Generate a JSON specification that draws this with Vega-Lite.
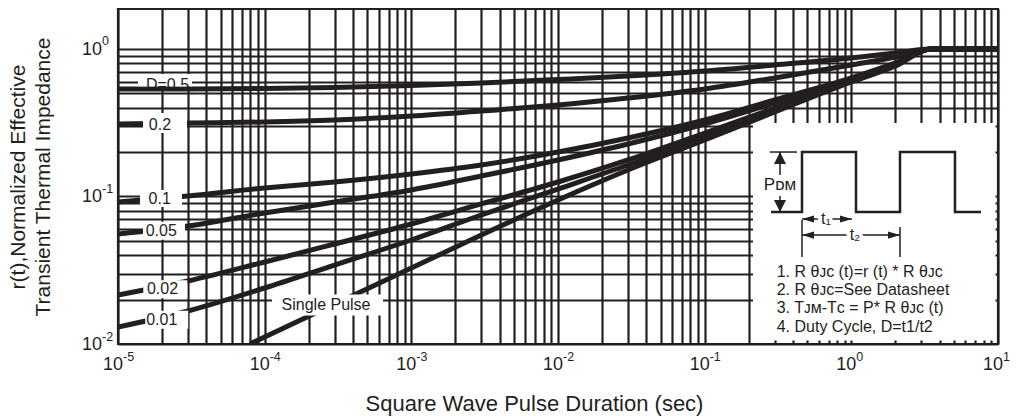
{
  "$schema": "https://vega.github.io/schema/vega-lite/v6.json",
  "width": 880,
  "height": 335,
  "autosize": {"type": "none"},
  "padding": {"left": 118, "top": 9, "right": 20, "bottom": 74},
  "background": "white",
  "config": {
    "font": "Liberation Sans",
    "view": {"stroke": "#231f20", "strokeWidth": 2.2},
    "axis": {
      "labels": false,
      "titleFont": "Liberation Sans",
      "titleFontWeight": "normal",
      "titleColor": "#231f20",
      "gridColor": "#231f20",
      "gridOpacity": 1,
      "gridWidth": 2.2,
      "ticks": false,
      "domain": false
    }
  },
  "encoding": {
    "x": {
      "field": "t",
      "type": "quantitative",
      "scale": {"type": "log", "domain": [0.00001, 10], "nice": false},
      "axis": {
        "title": "Square Wave Pulse Duration (sec)",
        "titleFontSize": 22,
        "titleX": 416,
        "titleY": 59,
        "titleBaseline": "middle",
        "grid": true,
        "values": [0.00001,0.00002,0.00003,0.00004,0.00005,0.00006,0.00007,0.00008,0.00009,0.0001,0.0002,0.0003,0.0004,0.0005,0.0006,0.0007,0.0008,0.0009,0.001,0.002,0.003,0.004,0.005,0.006,0.007,0.008,0.009,0.01,0.02,0.03,0.04,0.05,0.06,0.07,0.08,0.09,0.1,0.2,0.3,0.4,0.5,0.6,0.7,0.8,0.9,1,2,3,4,5,6,7,8,9,10]
      }
    },
    "y": {
      "field": "r",
      "type": "quantitative",
      "scale": {"type": "log", "domain": [0.01, 1.867], "nice": false},
      "axis": {
        "title": ["r(t),Normalized Effective", "Transient Thermal Impedance"],
        "titleFontSize": 21,
        "titleLineHeight": 25,
        "titleX": -100,
        "titleY": 167.5,
        "titleBaseline": "middle",
        "grid": true,
        "values": [0.01,0.02,0.03,0.04,0.05,0.06,0.07,0.08,0.09,0.1,0.2,0.3,0.4,0.5,0.6,0.7,0.8,0.9,1]
      }
    }
  },
  "resolve": {"scale": {"shape": "independent"}},
  "layer": [
    {
      "data": {"values": [{"t": 0.2136, "t2": 9.62, "r": 0.01056, "r2": 0.315}]},
      "mark": {"type": "rect", "fill": "white", "stroke": null},
      "encoding": {"x2": {"field": "t2"}, "y2": {"field": "r2"}}
    },
    {
      "data": {"values": [
        {"D": "0.5", "t": 0.00001, "r": 0.5356}, {"D": "0.5", "t": 0.00003, "r": 0.536}, {"D": "0.5", "t": 0.0001, "r": 0.540}, {"D": "0.5", "t": 0.0003, "r": 0.548}, {"D": "0.5", "t": 0.001, "r": 0.566}, {"D": "0.5", "t": 0.003, "r": 0.588}, {"D": "0.5", "t": 0.01, "r": 0.621}, {"D": "0.5", "t": 0.03, "r": 0.656}, {"D": "0.5", "t": 0.1, "r": 0.709}, {"D": "0.5", "t": 0.3, "r": 0.779}, {"D": "0.5", "t": 1, "r": 0.869}, {"D": "0.5", "t": 2, "r": 0.9395}, {"D": "0.5", "t": 3.5, "r": 1.0}, {"D": "0.5", "t": 10, "r": 1.0},
        {"D": "0.2", "t": 0.00001, "r": 0.310}, {"D": "0.2", "t": 0.00003, "r": 0.315}, {"D": "0.2", "t": 0.0001, "r": 0.320}, {"D": "0.2", "t": 0.0003, "r": 0.330}, {"D": "0.2", "t": 0.001, "r": 0.351}, {"D": "0.2", "t": 0.003, "r": 0.380}, {"D": "0.2", "t": 0.01, "r": 0.417}, {"D": "0.2", "t": 0.03, "r": 0.465}, {"D": "0.2", "t": 0.1, "r": 0.5356}, {"D": "0.2", "t": 0.3, "r": 0.636}, {"D": "0.2", "t": 1, "r": 0.779}, {"D": "0.2", "t": 2, "r": 0.883}, {"D": "0.2", "t": 3.5, "r": 1.0}, {"D": "0.2", "t": 10, "r": 1.0},
        {"D": "0.1", "t": 0.00001, "r": 0.0918}, {"D": "0.1", "t": 0.00003, "r": 0.1008}, {"D": "0.1", "t": 0.0001, "r": 0.1142}, {"D": "0.1", "t": 0.0003, "r": 0.1254}, {"D": "0.1", "t": 0.001, "r": 0.1421}, {"D": "0.1", "t": 0.003, "r": 0.1635}, {"D": "0.1", "t": 0.01, "r": 0.2002}, {"D": "0.1", "t": 0.03, "r": 0.2492}, {"D": "0.1", "t": 0.1, "r": 0.330}, {"D": "0.1", "t": 0.3, "r": 0.451}, {"D": "0.1", "t": 1, "r": 0.636}, {"D": "0.1", "t": 2, "r": 0.804}, {"D": "0.1", "t": 3.5, "r": 1.0}, {"D": "0.1", "t": 10, "r": 1.0},
        {"D": "0.05", "t": 0.00001, "r": 0.0557}, {"D": "0.05", "t": 0.00003, "r": 0.0631}, {"D": "0.05", "t": 0.0001, "r": 0.0773}, {"D": "0.05", "t": 0.0003, "r": 0.0918}, {"D": "0.05", "t": 0.001, "r": 0.1107}, {"D": "0.05", "t": 0.003, "r": 0.1377}, {"D": "0.05", "t": 0.01, "r": 0.1768}, {"D": "0.05", "t": 0.03, "r": 0.2270}, {"D": "0.05", "t": 0.1, "r": 0.310}, {"D": "0.05", "t": 0.3, "r": 0.4304}, {"D": "0.05", "t": 1, "r": 0.626}, {"D": "0.05", "t": 2, "r": 0.791}, {"D": "0.05", "t": 3.5, "r": 1.0}, {"D": "0.05", "t": 10, "r": 1.0},
        {"D": "0.02", "t": 0.00001, "r": 0.0215}, {"D": "0.02", "t": 0.00003, "r": 0.02674}, {"D": "0.02", "t": 0.0001, "r": 0.03597}, {"D": "0.02", "t": 0.0003, "r": 0.04764}, {"D": "0.02", "t": 0.001, "r": 0.0651}, {"D": "0.02", "t": 0.003, "r": 0.0890}, {"D": "0.02", "t": 0.01, "r": 0.1254}, {"D": "0.02", "t": 0.03, "r": 0.1768}, {"D": "0.02", "t": 0.1, "r": 0.2694}, {"D": "0.02", "t": 0.3, "r": 0.398}, {"D": "0.02", "t": 1, "r": 0.6166}, {"D": "0.02", "t": 2, "r": 0.791}, {"D": "0.02", "t": 3.5, "r": 1.0}, {"D": "0.02", "t": 10, "r": 1.0},
        {"D": "0.01", "t": 0.00001, "r": 0.01304}, {"D": "0.01", "t": 0.00003, "r": 0.01674}, {"D": "0.01", "t": 0.0001, "r": 0.02397}, {"D": "0.01", "t": 0.0003, "r": 0.03432}, {"D": "0.01", "t": 0.001, "r": 0.0507}, {"D": "0.01", "t": 0.003, "r": 0.0749}, {"D": "0.01", "t": 0.01, "r": 0.1124}, {"D": "0.01", "t": 0.03, "r": 0.1635}, {"D": "0.01", "t": 0.1, "r": 0.2532}, {"D": "0.01", "t": 0.3, "r": 0.392}, {"D": "0.01", "t": 1, "r": 0.6067}, {"D": "0.01", "t": 2, "r": 0.791}, {"D": "0.01", "t": 3.5, "r": 1.0}, {"D": "0.01", "t": 10, "r": 1.0},
        {"D": "single", "t": 0.0000794, "r": 0.01}, {"D": "single", "t": 0.0001, "r": 0.01115}, {"D": "single", "t": 0.0003, "r": 0.01867}, {"D": "single", "t": 0.001, "r": 0.03275}, {"D": "single", "t": 0.003, "r": 0.0548}, {"D": "single", "t": 0.01, "r": 0.0947}, {"D": "single", "t": 0.03, "r": 0.1512}, {"D": "single", "t": 0.1, "r": 0.2416}, {"D": "single", "t": 0.3, "r": 0.374}, {"D": "single", "t": 1, "r": 0.5974}, {"D": "single", "t": 2, "r": 0.767}, {"D": "single", "t": 3.5, "r": 1.0}, {"D": "single", "t": 10, "r": 1.0}
      ]},
      "mark": {"type": "line", "color": "#231f20", "strokeWidth": 5, "interpolate": "monotone", "clip": true},
      "encoding": {"detail": {"field": "D"}}
    },
    {
      "data": {"name": "labels", "values": [
        {"label": "D=0.5", "t": 0.00002176, "r": 0.5675},
        {"label": "0.2", "t": 0.00001933, "r": 0.3067},
        {"label": "0.1", "t": 0.00001924, "r": 0.09692},
        {"label": "0.05", "t": 0.00001973, "r": 0.05854},
        {"label": "0.02", "t": 0.00002011, "r": 0.02352},
        {"label": "0.01", "t": 0.00001986, "r": 0.01459},
        {"label": "Single Pulse", "t": 0.000262, "r": 0.01838}
      ]},
      "mark": {"type": "point", "filled": true, "fill": "white", "opacity": 1, "strokeWidth": 0, "size": 400},
      "encoding": {
        "shape": {
          "field": "label",
          "type": "nominal",
          "legend": null,
          "scale": {
            "domain": ["D=0.5", "0.2", "0.1", "0.05", "0.02", "0.01", "Single Pulse"],
            "range": ["M-2.95,-1.135H2.45V0.1H-2.95Z", "M-1.7,-1.17H2.7V0.83H-1.7Z", "M-1.97,-0.85H2.23V0.85H-1.97Z", "M-1.83,-0.9H2.37V0.9H-1.83Z", "M-1.92,-0.9H2.48V0.9H-1.92Z", "M-1.65,-0.9H2.65V0.9H-1.65Z", "M-5.4,-1.05H5.7V1.05H-5.4Z"]
          }
        }
      }
    },
    {
      "data": {"name": "labels"},
      "mark": {"type": "text", "fontSize": 16, "color": "#231f20", "align": "center", "baseline": "middle"},
      "encoding": {"text": {"field": "label"}}
    },
    {
      "data": {"name": "xdec", "values": [
        {"t": 0.00001, "r": 0.01, "e": "-5"},
        {"t": 0.0001, "r": 0.01, "e": "-4"},
        {"t": 0.001, "r": 0.01, "e": "-3"},
        {"t": 0.01, "r": 0.01, "e": "-2"},
        {"t": 0.1, "r": 0.01, "e": "-1"},
        {"t": 1, "r": 0.01, "e": "0"},
        {"t": 10, "r": 0.01, "e": "1"}
      ]},
      "mark": {"type": "text", "fontSize": 18, "color": "#231f20", "align": "right", "baseline": "middle", "dx": 5, "dy": 20.5, "text": "10"}
    },
    {
      "data": {"name": "xdec"},
      "mark": {"type": "text", "fontSize": 12.5, "color": "#231f20", "align": "left", "baseline": "middle", "dx": 5, "dy": 13}
      ,"encoding": {"text": {"field": "e"}}
    },
    {
      "data": {"name": "ydec", "values": [
        {"t": 0.00001, "r": 0.01, "e": "-2"},
        {"t": 0.00001, "r": 0.1, "e": "-1"},
        {"t": 0.00001, "r": 1, "e": "0"}
      ]},
      "mark": {"type": "text", "fontSize": 18, "color": "#231f20", "align": "left", "baseline": "middle", "dx": -36, "dy": 1, "text": "10"}
    },
    {
      "data": {"name": "ydec"},
      "mark": {"type": "text", "fontSize": 12.5, "color": "#231f20", "align": "left", "baseline": "middle", "dx": -16, "dy": -7.5},
      "encoding": {"text": {"field": "e"}}
    },
    {
      "data": {"values": [
        {"i": 1, "t": 0.2834, "r": 0.0785}, {"i": 2, "t": 0.4609, "r": 0.0785}, {"i": 3, "t": 0.4609, "r": 0.2002}, {"i": 4, "t": 1.076, "r": 0.2002}, {"i": 5, "t": 1.076, "r": 0.0785}, {"i": 6, "t": 2.147, "r": 0.0785}, {"i": 7, "t": 2.147, "r": 0.2002}, {"i": 8, "t": 5.09, "r": 0.2002}, {"i": 9, "t": 5.09, "r": 0.0785}, {"i": 10, "t": 7.66, "r": 0.0785}
      ]},
      "mark": {"type": "line", "color": "#231f20", "strokeWidth": 2.5, "strokeJoin": "miter"},
      "encoding": {"order": {"field": "i"}}
    },
    {
      "data": {"values": [
        {"t": 0.2783, "t2": 0.4262, "r": 0.2002, "r2": 0.2002},
        {"t": 0.3264, "t2": 0.3264, "r": 0.2002, "r2": 0.1399},
        {"t": 0.3264, "t2": 0.3264, "r": 0.1008, "r2": 0.0785},
        {"t": 0.4609, "t2": 1.0104, "r": 0.0704, "r2": 0.0704},
        {"t": 0.4609, "t2": 2.147, "r": 0.0548, "r2": 0.0548},
        {"t": 0.4609, "t2": 0.4609, "r": 0.0693, "r2": 0.0389},
        {"t": 2.147, "t2": 2.147, "r": 0.0621, "r2": 0.0389}
      ]},
      "mark": {"type": "rule", "color": "#231f20", "strokeWidth": 1.5},
      "encoding": {"x2": {"field": "t2"}, "y2": {"field": "r2"}}
    },
    {
      "data": {"values": [
        {"dir": "up", "t": 0.3264, "r": 0.1824},
        {"dir": "down", "t": 0.3264, "r": 0.0862},
        {"dir": "left", "t": 0.5065, "r": 0.0704},
        {"dir": "right", "t": 0.9197, "r": 0.0704},
        {"dir": "left", "t": 0.5065, "r": 0.0548},
        {"dir": "right", "t": 1.954, "r": 0.0548}
      ]},
      "mark": {"type": "point", "filled": true, "fill": "#231f20", "opacity": 1, "strokeWidth": 0, "size": 144},
      "encoding": {
        "shape": {
          "field": "dir",
          "type": "nominal",
          "legend": null,
          "scale": {
            "domain": ["up", "down", "left", "right"],
            "range": ["M0,-1L1,1L-1,1Z", "M0,1L1,-1L-1,-1Z", "M-1,0L1,-0.6L1,0.6Z", "M1,0L-1,-0.6L-1,0.6Z"]
          }
        }
      }
    },
    {
      "data": {"name": "tlabels", "values": [
        {"txt": "t₁", "t": 0.6722, "r": 0.0704},
        {"txt": "t₂", "t": 1.059, "r": 0.0548}
      ]},
      "mark": {"type": "text", "fontSize": 16, "stroke": "white", "strokeWidth": 7, "fill": "white", "align": "center", "baseline": "middle"},
      "encoding": {"text": {"field": "txt"}}
    },
    {
      "data": {"name": "tlabels"},
      "mark": {"type": "text", "fontSize": 16, "color": "#231f20", "align": "center", "baseline": "middle"},
      "encoding": {"text": {"field": "txt"}}
    },
    {
      "data": {"values": [{"txt": "Pᴅᴍ", "t": 0.3264, "r": 0.1197}]},
      "mark": {"type": "text", "fontSize": 17, "color": "#231f20", "align": "center", "baseline": "middle"},
      "encoding": {"text": {"field": "txt"}}
    },
    {
      "data": {"values": [
        {"txt": "1. R θᴊᴄ (t)=r (t) * R θᴊᴄ", "t": 0.3098, "r": 0.03076},
        {"txt": "2. R θᴊᴄ=See Datasheet", "t": 0.3098, "r": 0.02323},
        {"txt": "3. Tᴊᴍ-Tᴄ = P* R θᴊᴄ (t)", "t": 0.3098, "r": 0.01754},
        {"txt": "4. Duty Cycle, D=t1/t2", "t": 0.3098, "r": 0.01304}
      ]},
      "mark": {"type": "text", "fontSize": 16, "color": "#231f20", "align": "left", "baseline": "middle"},
      "encoding": {"text": {"field": "txt"}}
    }
  ]
}
